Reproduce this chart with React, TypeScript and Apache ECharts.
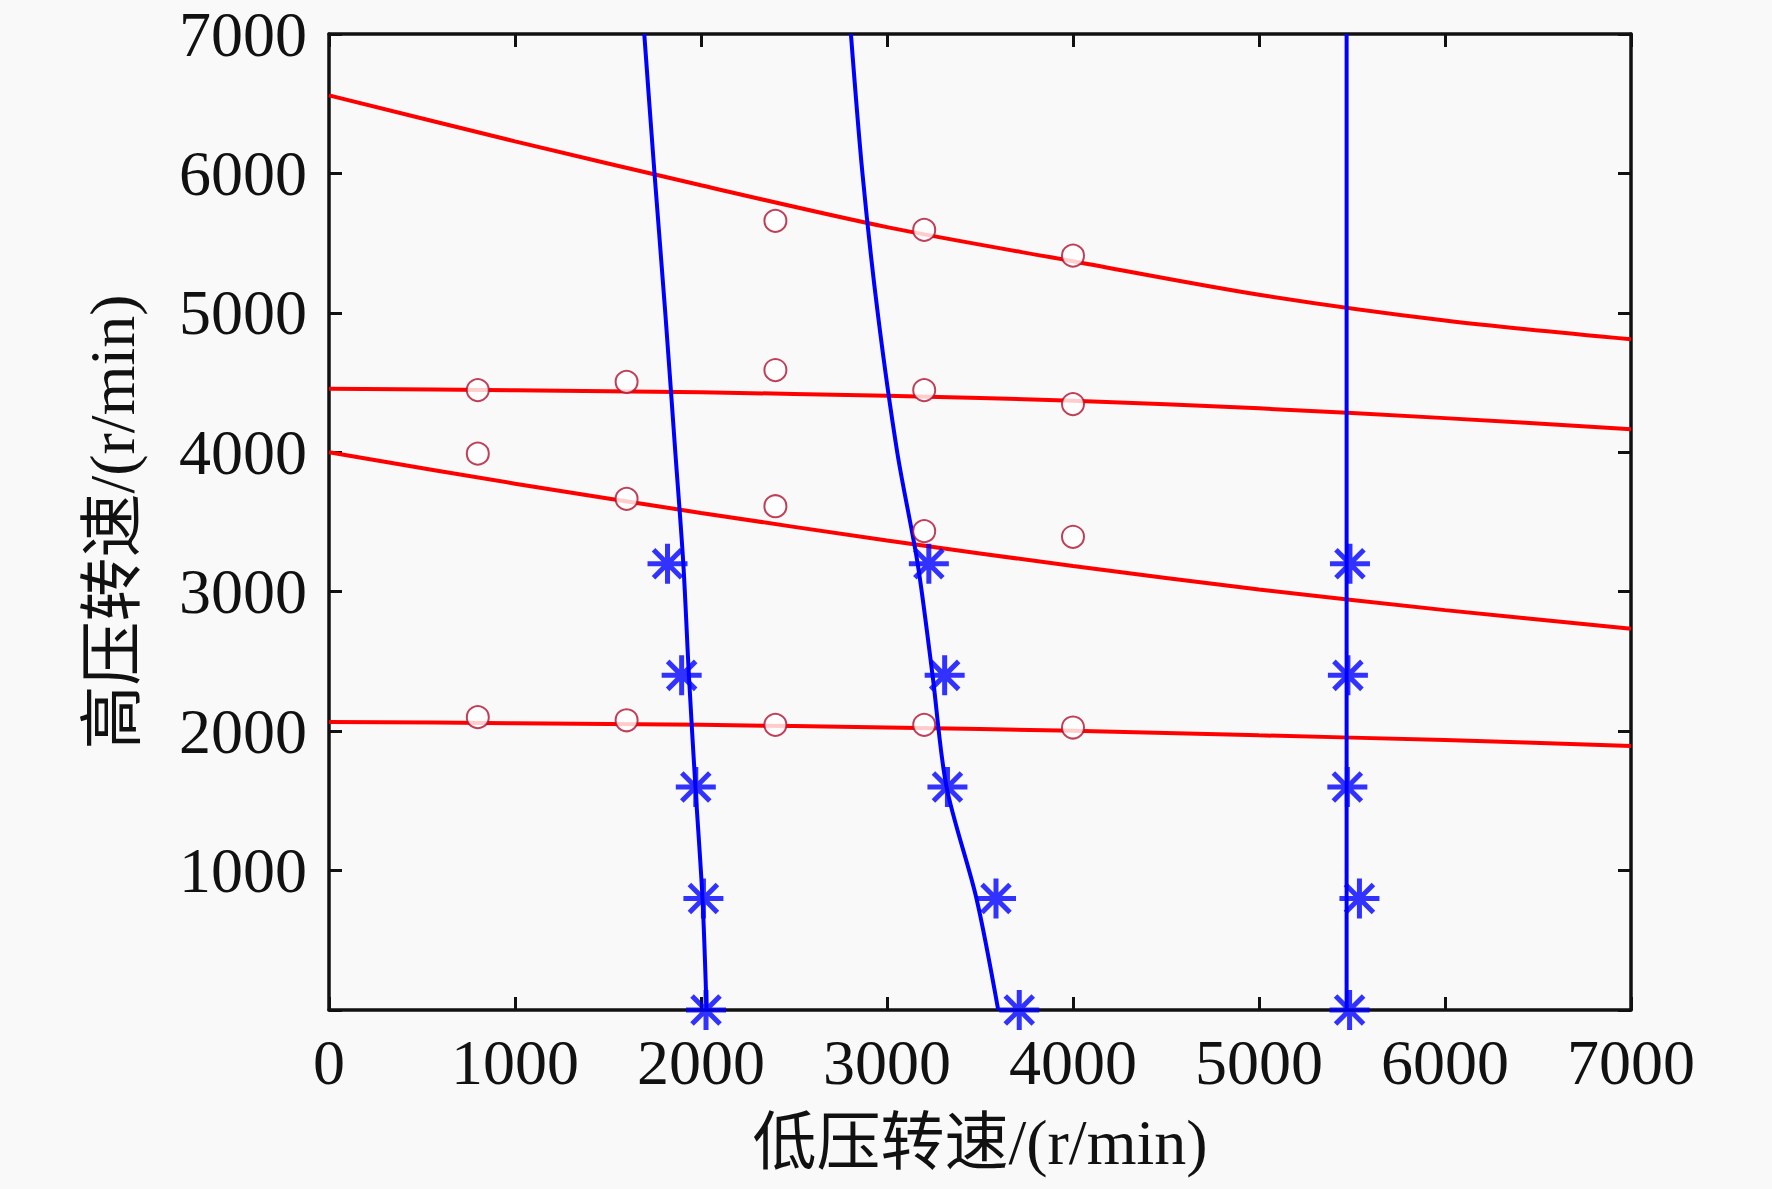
import React, { useEffect, useRef } from 'react';
import * as echarts from 'echarts';

// red curves: low-pressure speed along x, high-pressure speed on y
const redX = [0, 1000, 2000, 3000, 4000, 5000, 6000, 7000];
const redCurve1 = [6560, 6230, 5915, 5615, 5370, 5130, 4945, 4810];
const redCurve2 = [4455, 4445, 4430, 4405, 4370, 4315, 4245, 4165];
const redCurve3 = [4000, 3775, 3565, 3368, 3184, 3016, 2868, 2735];
const redCurve4 = [2066, 2057, 2045, 2026, 2003, 1970, 1936, 1894];

// red circles (measured points)
const circleX = [800, 1600, 2400, 3200, 4000];
const circleRow1 = [null, null, 5660, 5595, 5410];
const circleRow2 = [4446, 4505, 4590, 4446, 4346];
const circleRow3 = [3990, 3666, 3613, 3434, 3394];
const circleRow4 = [2100, 2078, 2045, 2045, 2026];

// blue curves: given by high-pressure speed (y) -> low-pressure speed (x)
const blueY = [0, 800, 1600, 2400, 3200, 4000, 5000, 6000, 7000];
const blueCurve1 = [2030, 2008, 1970, 1935, 1905, 1862, 1808, 1750, 1695];
const blueCurve2 = [3598, 3481, 3320, 3245, 3165, 3055, 2950, 2868, 2806];
const blueCurve3 = [5471, 5471, 5471, 5471, 5471, 5471, 5471, 5471, 5471];

// blue asterisks
const starY = [0, 800, 1600, 2400, 3200];
const starCol1 = [2027, 2013, 1972, 1896, 1820];
const starCol2 = [3711, 3586, 3325, 3310, 3225];
const starCol3 = [5487, 5540, 5475, 5478, 5489];

const FONT = "'Liberation Serif', 'Times New Roman', 'Noto Sans CJK SC', serif";
const STAR = 'path://M0,-10L0,10M-10,0L10,0M-7,-7L7,7M-7,7L7,-7';

const redLine = (vals: number[]) => ({
  type: 'line',
  data: redX.map((x, i) => [x, vals[i]]),
  showSymbol: false,
  symbol: 'none',
  smooth: 0.3,
  lineStyle: { color: '#ff0000', width: 4 },
  z: 3,
});

const blueLine = (vals: number[]) => ({
  type: 'line',
  data: blueY.map((y, i) => [vals[i], y]),
  showSymbol: false,
  symbol: 'none',
  smooth: 0.3,
  lineStyle: { color: '#0000ff', width: 4 },
  z: 4,
});

const circles = () => {
  const pts: number[][] = [];
  [circleRow1, circleRow2, circleRow3, circleRow4].forEach((row) => {
    row.forEach((v, i) => {
      if (v != null) pts.push([circleX[i], v]);
    });
  });
  return pts;
};

const stars = () => {
  const pts: number[][] = [];
  [starCol1, starCol2, starCol3].forEach((col) => {
    col.forEach((x, i) => pts.push([x, starY[i]]));
  });
  return pts;
};

const App: React.FC = () => {
  const chartRef = useRef<HTMLDivElement | null>(null);

  useEffect(() => {
    document.body.style.margin = '0';
    if (!chartRef.current) return;
    const chart = echarts.init(chartRef.current, undefined, { renderer: 'svg' });

    const baseAxis = {
      type: 'value',
      min: 0,
      max: 7000,
      interval: 1000,
      axisLine: { show: true, onZero: false, lineStyle: { color: '#111', width: 3.5 } },
      axisTick: { show: true, inside: true, length: 13, lineStyle: { color: '#111', width: 3 } },
      splitLine: { show: false },
    };

    const option = {
      animation: false,
      backgroundColor: '#f9f9f9',
      grid: { left: 329, right: 141, top: 34, bottom: 179 },
      xAxis: [
        {
          ...baseAxis,
          position: 'bottom',
          name: '低压转速/(r/min)',
          nameLocation: 'middle',
          nameGap: 100,
          nameTextStyle: { color: '#111', fontSize: 64, fontFamily: FONT },
          axisLabel: {
            color: '#111',
            fontSize: 64,
            fontFamily: FONT,
            margin: 20,
            formatter: (v: number) => String(v),
          },
        },
        {
          ...baseAxis,
          position: 'top',
          axisLabel: { show: false },
        },
      ],
      yAxis: [
        {
          ...baseAxis,
          position: 'left',
          name: '高压转速/(r/min)',
          nameLocation: 'middle',
          nameRotate: 90,
          nameGap: 185,
          nameTextStyle: { color: '#111', fontSize: 64, fontFamily: FONT },
          axisLabel: {
            color: '#111',
            fontSize: 64,
            lineHeight: 58,
            fontFamily: FONT,
            margin: 22,
            formatter: (v: number) => (v === 0 ? '' : String(v)),
          },
        },
        {
          ...baseAxis,
          position: 'right',
          axisLabel: { show: false },
        },
      ],
      series: [
        redLine(redCurve1),
        redLine(redCurve2),
        redLine(redCurve3),
        redLine(redCurve4),
        {
          type: 'scatter',
          data: circles(),
          symbol: 'emptyCircle',
          symbolSize: 22,
          itemStyle: { color: '#b01030', borderColor: '#b01030', borderWidth: 2.2 },
          z: 5,
        },
        blueLine(blueCurve1),
        blueLine(blueCurve2),
        blueLine(blueCurve3),
        {
          type: 'scatter',
          data: stars(),
          symbol: STAR,
          symbolSize: 40,
          itemStyle: { color: 'none', borderColor: '#0000ff', borderWidth: 5 },
          z: 6,
        },
      ],
    };

    chart.setOption(option);
    return () => {
      chart.dispose();
    };
  }, []);

  return <div ref={chartRef} style={{ width: '1772px', height: '1189px' }} />;
};

export default App;
